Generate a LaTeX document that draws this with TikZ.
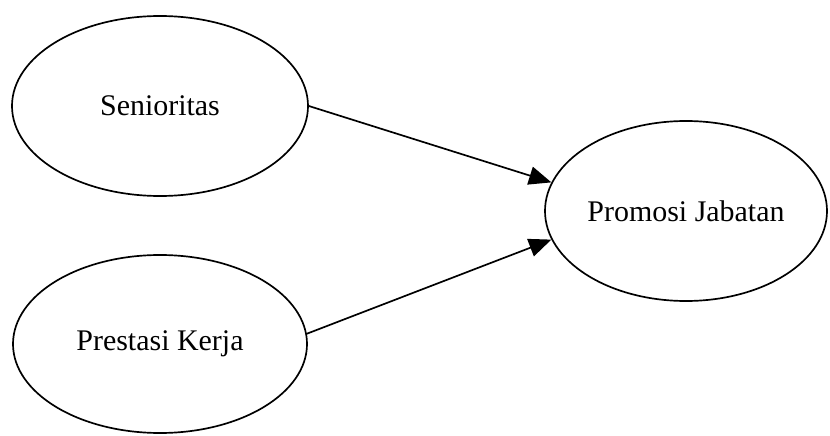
\documentclass[tikz,border=0pt]{standalone}
\usepackage{fontspec}
\setmainfont{Liberation Serif}
\usetikzlibrary{arrows.meta, shapes.geometric}
\tikzset{
  varnode/.style  = {ellipse, draw=black, line width=1.2pt,
                     minimum width=7.4cm, minimum height=4.5cm,
                     font=\fontsize{21.3}{25}\selectfont, inner sep=0pt},
  effect/.style   = {-{Triangle[length=5.6mm, width=4.6mm]}, line width=1.2pt, black},
}

\begin{document}
\begin{tikzpicture}
  \useasboundingbox (0,0) rectangle (20.75,10.875);

  \node[varnode] (senior) at (4.0,8.225) {Senioritas};
  \node[varnode, minimum width=7.35cm, minimum height=4.45cm] (prestasi) at (4.0,2.275) {Prestasi Kerja};
  \node[varnode, minimum width=7.05cm] (promosi) at (17.15,5.6) {Promosi Jabatan};

  \draw[effect] (senior.east) -- (promosi.168);
  \draw[effect] (prestasi.4) -- (promosi.192);
\end{tikzpicture}
\end{document}
